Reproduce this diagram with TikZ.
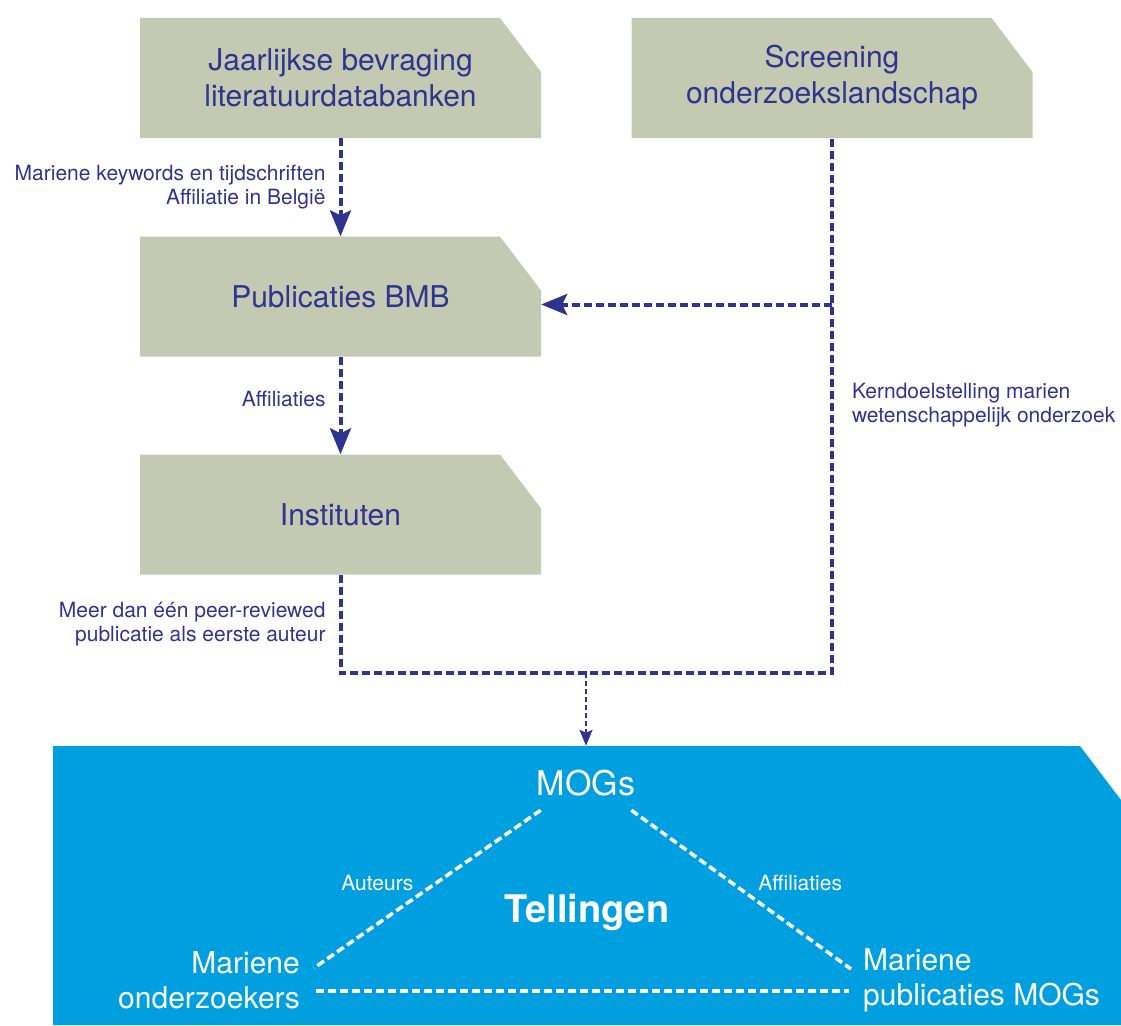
\documentclass[tikz,border=0pt]{standalone}
\usepackage{fontspec}
\setmainfont{TeX Gyre Heros}
\usepackage{xcolor}
\usepackage{tikz}
\usetikzlibrary{arrows.meta}
\definecolor{navy}{RGB}{46,52,143}
\definecolor{khaki}{RGB}{196,201,177}
\definecolor{sea}{RGB}{0,159,224}

\begin{document}
\begin{tikzpicture}[x=1pt,y=-1pt,
    cut/.style={path picture={\fill[#1] (path picture bounding box.south west) |- ([xshift=-41pt]path picture bounding box.north east) -- ([yshift=-54pt]path picture bounding box.north east) |- cycle;}},
    box/.style={rectangle,cut=khaki,minimum width=401pt,minimum height=120pt,inner sep=0pt,text=navy,align=center,font=\fontsize{30}{36}\selectfont},
    lbl/.style={text=navy,font=\fontsize{21}{24}\selectfont,inner xsep=13pt},
    link/.style={navy,line width=4pt,dash pattern=on 8pt off 4pt},
    tip/.style={-{Stealth[length=26pt,width=21pt,inset=5pt]}},
    wlink/.style={white,line width=3.5pt,dash pattern=on 8pt off 4pt},
    wtxt/.style={text=white,inner sep=0pt,font=\fontsize{30}{35}\selectfont},
    wlbl/.style={text=white,font=\fontsize{21}{24}\selectfont}]
        \useasboundingbox (0,0) rectangle (1121,1025);
        \node[box] (jaar) at (340.5,78) {Jaarlijkse bevraging\\literatuurdatabanken};
        \node[box] (scr) at (832,78) {Screening\\onderzoekslandschap};
        \node[box] (pub) at (340.5,296.5) {Publicaties BMB};
        \node[box] (inst) at (340.5,514.5) {Instituten};
        \node[rectangle,cut=sea,minimum width=1068pt,minimum height=279pt,inner sep=0pt] (telbox) at (587,885.5) {};
        \coordinate (j) at (586,673);
        \coordinate (in) at ([yshift=-8pt]pub.east);
        \draw[link,tip] (jaar) -- node[lbl,left,align=right]{Mariene keywords en tijdschriften\\Affiliatie in België} (pub);
        \draw[link,tip] (pub) -- node[pos=0.43,lbl,left]{Affiliaties} (inst);
        \draw[link] (inst) |- node[pos=0.25,lbl,left,align=right]{Meer dan één peer-reviewed\\publicatie als eerste auteur} (j) -| node[pos=0.75,lbl,right,align=left,xshift=5pt]{Kerndoelstelling marien\\wetenschappelijk onderzoek} (scr);
        \draw[link,tip] (scr.south |- in) -- (in);
        \draw[navy,line width=2pt,dash pattern=on 5pt off 3pt,-{Stealth[length=16pt,width=13pt,inset=3pt]}] (j) -- (j |- telbox.north);
        \node[wtxt,font=\fontsize{34}{40}\selectfont] (mogs) at (586,783) {MOGs};
        \node[wtxt,font=\bfseries\fontsize{38}{44}\selectfont] (tel) at (587,912) {Tellingen};
        \node[wtxt,anchor=east,align=right] (onderz) at (300,980) {Mariene\\onderzoekers};
        \node[wtxt,anchor=west,align=left] (publ) at (863,980) {Mariene\\publicaties MOGs};
        \draw[wlink] ([shift={(4pt,-14pt)}]mogs.south west) -- node[pos=0.46,wlbl,left,xshift=-18pt]{Auteurs} ([shift={(14pt,12pt)}]onderz.east);
        \draw[wlink] ([shift={(-4pt,-14pt)}]mogs.south east) -- node[pos=0.46,wlbl,right,xshift=21pt]{Affiliaties} ([shift={(-12pt,11pt)}]publ.west);
        \draw[wlink] ([shift={(16pt,-11pt)}]onderz.east) -- ([shift={(-14pt,-11pt)}]publ.west);
    \end{tikzpicture}
\end{document}
